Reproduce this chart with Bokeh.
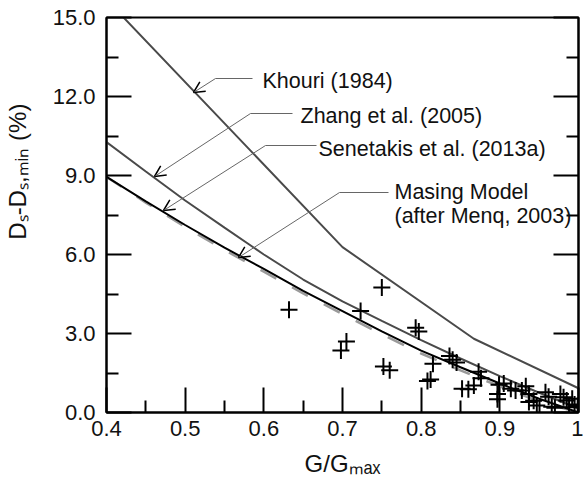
from bokeh.plotting import figure
from bokeh.models import LinearAxis, FixedTicker, Range1d, Label, Arrow, OpenHead
from bokeh.embed import file_html
from bokeh.resources import INLINE

# ---------------- data ----------------
gg_curve = [0.40, 0.45, 0.50, 0.55, 0.60, 0.65, 0.70, 0.75, 0.80, 0.85, 0.90, 0.95, 1.00]
masing_menq = [8.95, 8.02, 7.12, 6.26, 5.45, 4.62, 3.85, 3.08, 2.35, 1.72, 1.10, 0.52, 0.00]
senetakis_2013a = [8.95, 7.97, 7.05, 6.17, 5.35, 4.52, 3.74, 2.97, 2.24, 1.60, 0.99, 0.42, 0.00]
zhang_2005 = [10.27, 9.15, 8.05, 7.02, 6.00, 5.05, 4.22, 3.48, 2.75, 2.05, 1.38, 0.75, 0.15]
khouri_gg = [0.40, 0.70, 0.867, 1.00]
khouri_1984 = [15.68, 6.28, 2.80, 0.92]

test_gg = [0.632, 0.698, 0.705, 0.723, 0.750, 0.752, 0.760, 0.793, 0.797, 0.808,
           0.812, 0.815, 0.836, 0.840, 0.845, 0.852, 0.860, 0.867, 0.873, 0.876,
           0.899, 0.905, 0.897, 0.897, 0.914, 0.920, 0.928, 0.933, 0.937, 0.937,
           0.943, 0.947, 0.958, 0.962, 0.966, 0.970, 0.977, 0.981, 0.985, 0.988,
           0.992, 0.995, 0.999]
test_d = [3.90, 2.35, 2.70, 3.85, 4.75, 1.75, 1.60, 3.22, 3.08, 1.20,
          1.25, 1.85, 2.15, 2.00, 1.90, 0.90, 0.88, 1.03, 1.55, 1.30,
          1.05, 1.10, 0.50, 0.70, 0.90, 0.84, 0.84, 1.00, 0.70, 0.40,
          0.45, 0.27, 0.77, 0.60, 0.22, 0.18, 0.70, 0.58, 0.46, 0.20,
          0.52, 0.30, 0.25]

x_ticks = [0.4, 0.5, 0.6, 0.7, 0.8, 0.9, 1.0]
x_minor = [0.45, 0.55, 0.65, 0.75, 0.85, 0.95]
x_tick_labels = ["0.4", "0.5", "0.6", "0.7", "0.8", "0.9", "1"]
y_ticks = [0, 3, 6, 9, 12, 15]
y_minor = [1.5, 4.5, 7.5, 10.5, 13.5]
y_tick_labels = ["0.0", "3.0", "6.0", "9.0", "12.0", "15.0"]

x_title = "G/G\u2098\u2090\u2093"
y_title = "D\u209b-D\u209b,\u2098\u1d62\u2099 (%)"

FONT = "Liberation Sans"

# frame geometry (pixels) used only to place the text annotations
FL, FR, FT, FB = 106, 578, 17, 412


def dx(px):
    return 0.4 + (px - FL) * 0.6 / (FR - FL)


def dy(py):
    return (FB - py) * 15.0 / (FB - FT)


p = figure(width=583, height=483, x_range=Range1d(0.4, 1.0), y_range=Range1d(0, 15),
           output_backend="svg", toolbar_location=None,
           min_border_left=FL, min_border_right=583 - FR, min_border_top=FT,
           min_border_bottom=483 - FB)
p.xgrid.visible = False
p.ygrid.visible = False
p.outline_line_color = "black"
p.outline_line_width = 2
p.background_fill_color = "white"
p.border_fill_color = "white"


def style_axis(ax):
    ax.axis_line_color = "black"
    ax.axis_line_width = 2
    ax.major_tick_in = 25
    ax.major_tick_out = 0
    ax.minor_tick_in = 12
    ax.minor_tick_out = 0
    ax.major_tick_line_width = 2
    ax.minor_tick_line_width = 2
    ax.major_tick_line_color = "black"
    ax.minor_tick_line_color = "black"
    ax.major_label_text_font = FONT
    ax.major_label_text_font_size = "22px"
    ax.major_label_text_color = "#111111"
    ax.axis_label_text_font = FONT
    ax.axis_label_text_font_size = "24px"
    ax.axis_label_text_font_style = "normal"
    ax.axis_label_text_color = "#111111"


xa = p.xaxis[0]
xa.ticker = FixedTicker(ticks=x_ticks, minor_ticks=x_minor)
xa.major_label_overrides = {t: l for t, l in zip(x_ticks, x_tick_labels)}
style_axis(xa)
xa.major_label_standoff = 8
xa.axis_label = x_title
xa.axis_label_standoff = 11

ya = p.yaxis[0]
ya.ticker = FixedTicker(ticks=y_ticks, minor_ticks=y_minor)
ya.major_label_overrides = {t: l for t, l in zip(y_ticks, y_tick_labels)}
style_axis(ya)
ya.major_label_standoff = 11
ya.axis_label = "\u00a0" * 13 + y_title
ya.axis_label_standoff = 19

ra = LinearAxis(ticker=FixedTicker(ticks=y_ticks, minor_ticks=y_minor))
style_axis(ra)
ra.major_label_overrides = {t: "" for t in y_ticks}
ra.major_label_standoff = 0
p.add_layout(ra, "right")

# ---------------- curves ----------------
p.line(khouri_gg, khouri_1984, line_color="#4a4a4a", line_width=2)
p.line(gg_curve, zhang_2005, line_color="#4a4a4a", line_width=2)
p.line(gg_curve, senetakis_2013a, line_color="#9a9a9a", line_width=2.5, line_dash="18 18")
p.line(gg_curve, masing_menq, line_color="black", line_width=2)

p.scatter(test_gg, test_d, marker="cross", size=17, line_color="black", line_width=2)

# ---------------- annotations ----------------
notes = [
    (["Khouri (1984)"], 262, 80, (252, 78), 215, (193, 92)),
    (["Zhang et al. (2005)"], 300, 115, (292, 113), 250, (154, 176)),
    (["Senetakis et al. (2013a)"], 318, 148, (316, 145), 265, (163, 210)),
    (["Masing Model", "(after Menq, 2003)"], 394, 191, (388, 192), 339, (238, 257)),
]
for lines, tx, ty, (lx, ly), ex, (ax_, ay_) in notes:
    for i, t in enumerate(lines):
        p.add_layout(Label(x=dx(tx), y=dy(ty + 24 * i), text=t, text_font=FONT,
                           text_font_size="21.5px", text_baseline="middle",
                           text_align="left", text_color="#111111"))
    p.line([dx(lx), dx(ex)], [dy(ly), dy(ly)], line_color="#666666", line_width=1)
    p.add_layout(Arrow(x_start=dx(ex), y_start=dy(ly), x_end=dx(ax_), y_end=dy(ay_),
                       line_color="#666666", line_width=1,
                       end=OpenHead(size=11, line_color="black", line_width=1.5)))

open("out.html", "w").write(file_html(p, INLINE))
